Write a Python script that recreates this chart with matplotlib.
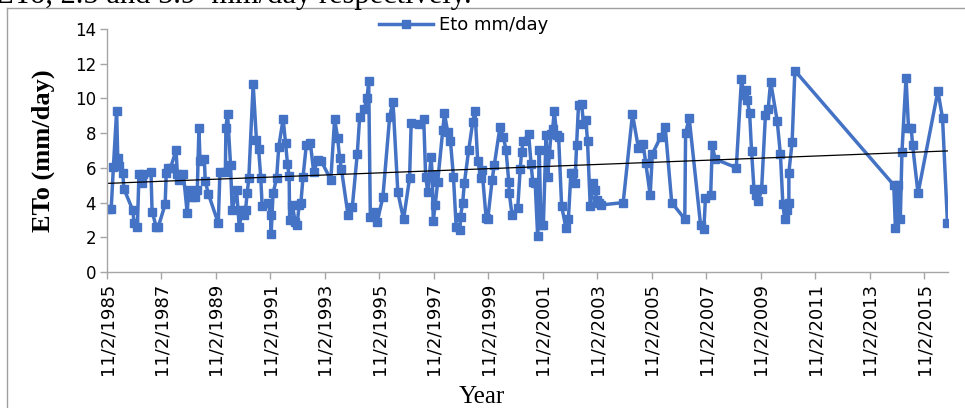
import numpy as np
import matplotlib
matplotlib.use("Agg")
import matplotlib.pyplot as plt
from matplotlib.lines import Line2D

# ETo readings (decimal year, mm/day)
years = [
    1985.89, 1985.99, 1986.07, 1986.19, 1986.23, 1986.27, 1986.41, 1986.46, 1986.78, 1986.83,
    1986.95, 1987.01, 1987.11, 1987.17, 1987.45, 1987.49, 1987.64, 1987.72, 1987.97, 1988.01,
    1988.09, 1988.17, 1988.37, 1988.42, 1988.49, 1988.64, 1988.78, 1988.83, 1988.94, 1989.06,
    1989.15, 1989.21, 1989.25, 1989.41, 1989.44, 1989.56, 1989.92, 1989.98, 1990.18, 1990.20,
    1990.26, 1990.37, 1990.43, 1990.59, 1990.69, 1990.80, 1990.86, 1990.92, 1990.98, 1991.04,
    1991.20, 1991.32, 1991.40, 1991.48, 1991.53, 1991.75, 1991.84, 1991.86, 1991.93, 1992.06,
    1992.14, 1992.30, 1992.39, 1992.46, 1992.52, 1992.54, 1992.64, 1992.74, 1992.81, 1992.89,
    1992.95, 1993.03, 1993.15, 1993.30, 1993.42, 1993.58, 1993.70, 1994.05, 1994.19, 1994.30,
    1994.37, 1994.44, 1994.68, 1994.84, 1995.02, 1995.11, 1995.27, 1995.38, 1995.44, 1995.50,
    1995.66, 1995.75, 1995.96, 1996.21, 1996.33, 1996.51, 1996.72, 1996.94, 1997.00, 1997.27,
    1997.46, 1997.53, 1997.61, 1997.73, 1997.77, 1997.81, 1997.88, 1997.97, 1998.16, 1998.22,
    1998.34, 1998.44, 1998.55, 1998.65, 1998.79, 1998.81, 1998.89, 1998.95, 1999.11, 1999.26,
    1999.34, 1999.44, 1999.57, 1999.60, 1999.75, 1999.81, 1999.97, 2000.05, 2000.26, 2000.38,
    2000.48, 2000.58, 2000.60, 2000.70, 2000.91, 2001.00, 2001.05, 2001.11, 2001.31, 2001.40,
    2001.46, 2001.55, 2001.64, 2001.70, 2001.76, 2001.85, 2001.95, 2002.01, 2002.07, 2002.13,
    2002.19, 2002.25, 2002.34, 2002.41, 2002.52, 2002.68, 2002.77, 2002.86, 2002.95, 2003.01,
    2003.07, 2003.14, 2003.26, 2003.32, 2003.41, 2003.47, 2003.57, 2003.68, 2003.75, 2003.81,
    2003.90, 2003.96, 2004.78, 2005.12, 2005.34, 2005.51, 2005.61, 2005.77, 2005.85, 2006.16,
    2006.32, 2006.56, 2007.04, 2007.07, 2007.20, 2007.62, 2007.74, 2007.80, 2007.99, 2008.05,
    2008.15, 2008.93, 2009.12, 2009.21, 2009.30, 2009.33, 2009.42, 2009.49, 2009.58, 2009.66,
    2009.74, 2009.86, 2010.00, 2010.10, 2010.19, 2010.43, 2010.55, 2010.64, 2010.71, 2010.80,
    2010.86, 2010.86, 2010.98, 2011.08, 2014.71, 2014.77, 2014.86, 2014.95, 2015.01, 2015.16,
    2015.25, 2015.35, 2015.40, 2015.60, 2016.33, 2016.50, 2016.68,
]
eto = [
    3.61, 3.61, 6.03, 9.30, 6.59, 6.13, 5.73, 4.78, 3.57, 2.84,
    2.61, 5.67, 5.11, 5.67, 5.78, 3.48, 2.61, 2.61, 3.90, 5.73,
    6.01, 6.01, 7.01, 5.63, 5.30, 5.63, 3.38, 4.73, 4.34, 4.34,
    4.73, 8.32, 6.40, 6.49, 5.25, 4.48, 2.81, 5.78, 5.78, 8.32,
    9.13, 6.17, 3.57, 4.73, 2.61, 3.57, 3.29, 3.57, 4.53, 5.40,
    10.82, 7.61, 7.09, 5.40, 3.80, 4.00, 3.29, 2.17, 4.53, 5.40,
    7.22, 8.82, 7.42, 6.21, 5.53, 3.00, 3.86, 2.90, 2.71, 3.86,
    3.96, 5.46, 7.32, 7.42, 5.78, 6.46, 6.40, 5.30, 8.82, 7.74,
    6.59, 5.92, 3.29, 3.77, 6.80, 8.95, 9.38, 10.01, 11.01, 3.19,
    3.48, 2.90, 4.30, 8.95, 9.82, 4.59, 3.04, 5.40, 8.61, 8.51,
    8.82, 5.49, 4.59, 6.65, 5.59, 2.94, 3.86, 5.17, 8.18, 9.15,
    8.05, 7.55, 5.49, 2.61, 2.42, 3.19, 4.00, 5.11, 7.03, 8.66,
    9.28, 6.40, 5.40, 5.88, 3.09, 3.05, 5.30, 6.17, 8.38, 7.80,
    7.03, 5.21, 4.53, 3.29, 3.71, 5.92, 6.90, 7.55, 7.93, 6.21,
    5.21, 5.11, 2.09, 7.03, 2.71, 2.71, 7.90, 5.49, 6.78, 7.93,
    8.22, 9.28, 7.90, 7.80, 3.80, 2.52, 3.05, 5.73, 5.69, 5.11,
    7.32, 9.63, 9.66, 8.51, 8.76, 7.55, 3.80, 5.11, 4.73, 4.15,
    4.00, 3.86, 4.00, 9.09, 7.13, 7.38, 6.26, 4.44, 6.80, 7.80,
    8.38, 4.00, 3.05, 7.99, 8.90, 2.71, 2.48, 4.28, 4.44, 7.32,
    6.51, 6.01, 11.10, 10.20, 10.49, 9.91, 9.15, 6.99, 4.76, 4.44,
    4.11, 4.76, 9.05, 9.38, 10.97, 8.72, 6.78, 3.90, 3.04, 3.57,
    4.00, 5.73, 7.51, 11.60, 5.01, 2.52, 5.01, 3.05, 6.90, 11.20,
    8.32, 8.32, 7.32, 4.53, 10.43, 8.86, 2.81,
]

tick_years = [1985 + 2 * i + 0.836 for i in range(16)]
tick_labels = ["11/2/%d" % (1985 + 2 * i) for i in range(16)]
y_ticks = [0, 2, 4, 6, 8, 10, 12, 14]

blue = "#4472C4"
grey = "#a6a6a6"

fig = plt.figure(figsize=(9.65, 4.08), dpi=100)
ax = fig.add_axes([107 / 965, 1 - 272 / 408, 841 / 965, 243 / 408])

x = np.array(years)
y = np.array(eto)
ax.plot(x, y, color=blue, lw=2.5, marker="s", ms=5.2, mec=blue, mfc=blue,
        label="Eto mm/day")

# linear trend line
k, b = np.polyfit(x, y, 1)
ax.plot([x.min(), x.max()], [k * x.min() + b, k * x.max() + b], color="black", lw=0.9)

ax.set_xlim(x.min() - 0.05, x.max() + 0.02)
ax.set_ylim(0, 14)
ax.set_yticks(y_ticks)
ax.set_yticklabels([str(v) for v in y_ticks], fontsize=12, family="DejaVu Sans")
ax.set_xticks(tick_years)
ax.set_xticklabels(tick_labels, rotation=90, fontsize=13,
                   family=["Liberation Sans Narrow", "DejaVu Sans"])

for s in ["top", "right"]:
    ax.spines[s].set_visible(False)
for s in ["left", "bottom"]:
    ax.spines[s].set_color(grey)
    ax.spines[s].set_linewidth(1)
ax.tick_params(axis="both", color=grey, length=5, width=1, pad=3)

ax.set_ylabel("ETo (mm/day)", fontsize=19, fontweight="bold",
              family="Liberation Serif", labelpad=14)
fig.text(482 / 965, 1 - 397 / 408, "Year", fontsize=18, family="Liberation Serif",
         ha="center", va="center")

ax.legend(loc="center", bbox_to_anchor=(0.424, 1.016), frameon=False,
          fontsize=13, handlelength=3.0, handletextpad=0.3, borderaxespad=0,
          borderpad=0)

# frame around the chart and clipped caption text above it
fig.add_artist(Line2D([7 / 965, 7 / 965], [0, 1 - 8 / 408], transform=fig.transFigure,
                      color="#a0a0a0", lw=1))
fig.add_artist(Line2D([7 / 965, 1], [1 - 8 / 408, 1 - 8 / 408], transform=fig.transFigure,
                      color="#a0a0a0", lw=1))
fig.text(-0.005, 1 - 3 / 408, "ETo, 2.5 and 5.9  mm/day respectively.", fontsize=22,
         family="Liberation Serif", va="baseline", ha="left")

fig.savefig("out.png", dpi=100)
